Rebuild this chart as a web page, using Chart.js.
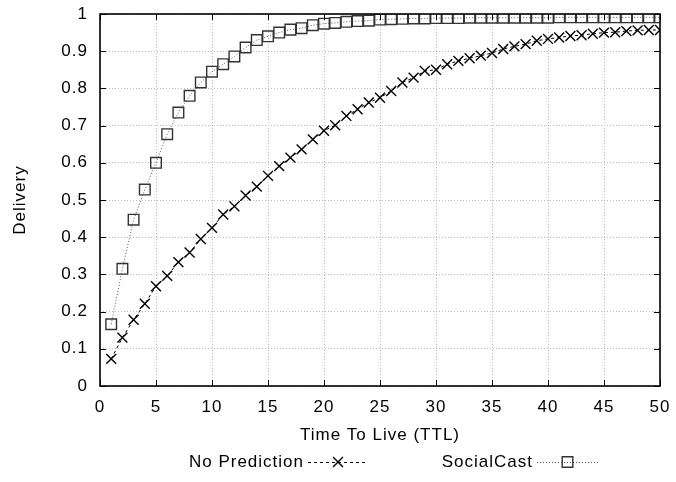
<!DOCTYPE html>
<html>
<head>
<meta charset="utf-8">
<script src="https://cdn.jsdelivr.net/npm/chart.js@4.4.0/dist/chart.umd.min.js"></script>
<style>
  html, body { margin: 0; padding: 0; background: #fff; }
</style>
</head>
<body>
<canvas id="chart" width="676" height="482"></canvas>
<script>
// TTL values (x axis)
const ttl = [1, 2, 3, 4, 5, 6, 7, 8, 9, 10, 11, 12, 13, 14, 15, 16, 17, 18, 19, 20,
    21, 22, 23, 24, 25, 26, 27, 28, 29, 30, 31, 32, 33, 34, 35, 36, 37, 38, 39, 40,
    41, 42, 43, 44, 45, 46, 47, 48, 49, 50];

// Delivery ratios
const noPrediction = [0.073, 0.130, 0.178, 0.221, 0.268, 0.296, 0.333, 0.359, 0.395, 0.425,
    0.461, 0.483, 0.512, 0.536, 0.565, 0.591, 0.614, 0.636, 0.663, 0.686,
    0.701, 0.726, 0.744, 0.762, 0.775, 0.793, 0.816, 0.829, 0.847, 0.850,
    0.865, 0.874, 0.881, 0.888, 0.895, 0.906, 0.913, 0.919, 0.928, 0.933,
    0.937, 0.941, 0.943, 0.947, 0.950, 0.951, 0.954, 0.956, 0.957, 0.957];

const socialCast = [0.166, 0.315, 0.447, 0.528, 0.600, 0.677, 0.735, 0.780, 0.816, 0.845,
    0.865, 0.886, 0.910, 0.930, 0.940, 0.950, 0.958, 0.962, 0.970, 0.974,
    0.976, 0.979, 0.981, 0.982, 0.985, 0.986, 0.987, 0.988, 0.988, 0.989,
    0.989, 0.989, 0.990, 0.990, 0.990, 0.990, 0.990, 0.990, 0.990, 0.990,
    0.991, 0.991, 0.991, 0.991, 0.991, 0.991, 0.991, 0.991, 0.991, 0.991];

const seriesNames = ["No Prediction", "SocialCast"];

const FONT = "'Liberation Sans', Arial, sans-serif";
const FONT_SIZE = 17;

function toPoints(ys) {
    return ttl.map((x, i) => ({ x: x, y: ys[i] }));
}

// the original text is set a little looser than Arial
const spacingPlugin = {
    id: "spacing",
    beforeUpdate(chart) { chart.ctx.letterSpacing = "1px"; },
    beforeDraw(chart) { chart.ctx.letterSpacing = "1px"; }
};

// gnuplot-like frame: solid border plus inward tick marks on all four sides
const framePlugin = {
    id: "frame",
    afterDatasetsDraw(chart) {
        const { ctx, chartArea: a, scales } = chart;
        const len = 6;
        ctx.save();
        ctx.strokeStyle = "#000";
        ctx.lineWidth = 1;
        ctx.setLineDash([]);
        ctx.beginPath();
        scales.x.ticks.forEach(t => {
            const px = Math.round(scales.x.getPixelForValue(t.value)) + 0.5;
            ctx.moveTo(px, a.bottom); ctx.lineTo(px, a.bottom - len);
            ctx.moveTo(px, a.top); ctx.lineTo(px, a.top + len);
        });
        scales.y.ticks.forEach(t => {
            const py = Math.round(scales.y.getPixelForValue(t.value)) + 0.5;
            ctx.moveTo(a.left, py); ctx.lineTo(a.left + len, py);
            ctx.moveTo(a.right, py); ctx.lineTo(a.right - len, py);
        });
        ctx.stroke();
        ctx.lineWidth = 1.6;
        ctx.strokeRect(a.left, a.top, a.right - a.left, a.bottom - a.top);
        ctx.restore();
    }
};

// legend below the axis title: label text, then a line sample with the marker
const legendPlugin = {
    id: "bottomLegend",
    afterDraw(chart) {
        const ctx = chart.ctx;
        const y = 462;
        const entries = [
            { textRight: 304, x0: 308, x1: 368, ds: chart.data.datasets[0] },
            { textRight: 533, x0: 537, x1: 598, ds: chart.data.datasets[1] }
        ];
        ctx.save();
        ctx.font = FONT_SIZE + "px " + FONT;
        ctx.fillStyle = "#000";
        ctx.textAlign = "right";
        ctx.textBaseline = "middle";
        entries.forEach(e => {
            ctx.fillText(e.ds.label, e.textRight, y);
            ctx.strokeStyle = e.ds.borderColor;
            ctx.lineWidth = 1;
            ctx.setLineDash(e.ds.borderDash);
            ctx.beginPath();
            ctx.moveTo(e.x0, y + 0.5);
            ctx.lineTo(e.x1, y + 0.5);
            ctx.stroke();
            ctx.setLineDash([]);
            ctx.strokeStyle = e.ds.pointBorderColor;
            ctx.fillStyle = "rgba(0,0,0,0)";
            ctx.lineWidth = e.ds.pointBorderWidth;
            Chart.helpers.drawPoint(ctx, {
                pointStyle: e.ds.pointStyle,
                radius: e.ds.pointRadius,
                rotation: 0,
                borderWidth: e.ds.pointBorderWidth
            }, (e.x0 + e.x1) / 2, y);
            ctx.fillStyle = "#000";
        });
        ctx.restore();
    }
};

const ctx = document.getElementById("chart").getContext("2d");
new Chart(ctx, {
    type: "line",
    data: {
        datasets: [
            {
                label: seriesNames[0],
                data: toPoints(noPrediction),
                borderColor: "#000",
                borderWidth: 1,
                borderDash: [3, 3],
                pointStyle: "crossRot",
                pointRadius: 7,
                pointBorderColor: "#000",
                pointBorderWidth: 1.4,
                pointBackgroundColor: "rgba(0,0,0,0)",
                fill: false,
                tension: 0
            },
            {
                label: seriesNames[1],
                data: toPoints(socialCast),
                borderColor: "#555",
                borderWidth: 1,
                borderDash: [1, 2],
                pointStyle: "rect",
                pointRadius: 7.5,
                pointBorderColor: "#333",
                pointBorderWidth: 1.4,
                pointBackgroundColor: "rgba(0,0,0,0)",
                fill: false,
                tension: 0
            }
        ]
    },
    options: {
        responsive: false,
        animation: false,
        devicePixelRatio: 1,
        layout: { padding: { left: 0, top: 14, right: 16, bottom: 36 } },
        plugins: {
            legend: { display: false },
            tooltip: { enabled: false }
        },
        scales: {
            x: {
                type: "linear",
                min: 0,
                max: 50,
                afterFit(scale) {
                    scale.height = 60;
                    scale.paddingLeft = 0;
                    scale.paddingRight = 0;
                },
                ticks: {
                    stepSize: 5,
                    color: "#000",
                    padding: 11,
                    font: { family: FONT, size: FONT_SIZE }
                },
                grid: { color: "#bbb", lineWidth: 1, drawTicks: false },
                border: { display: false, dash: [1, 2] },
                title: {
                    display: true,
                    text: "Time To Live (TTL)",
                    color: "#000",
                    padding: 0,
                    font: { family: FONT, size: FONT_SIZE }
                }
            },
            y: {
                min: 0,
                max: 1,
                afterFit(scale) {
                    scale.width = 100;
                    scale.paddingTop = 0;
                    scale.paddingBottom = 0;
                },
                ticks: {
                    stepSize: 0.1,
                    color: "#000",
                    padding: 12,
                    font: { family: FONT, size: FONT_SIZE },
                    callback: v => String(Math.round(v * 10) / 10)
                },
                grid: { color: "#bbb", lineWidth: 1, drawTicks: false },
                border: { display: false, dash: [1, 2] },
                title: {
                    display: true,
                    text: "Delivery",
                    color: "#000",
                    padding: { top: 10, bottom: 0 },
                    font: { family: FONT, size: FONT_SIZE }
                }
            }
        }
    },
    plugins: [spacingPlugin, framePlugin, legendPlugin]
});
</script>
</body>
</html>
